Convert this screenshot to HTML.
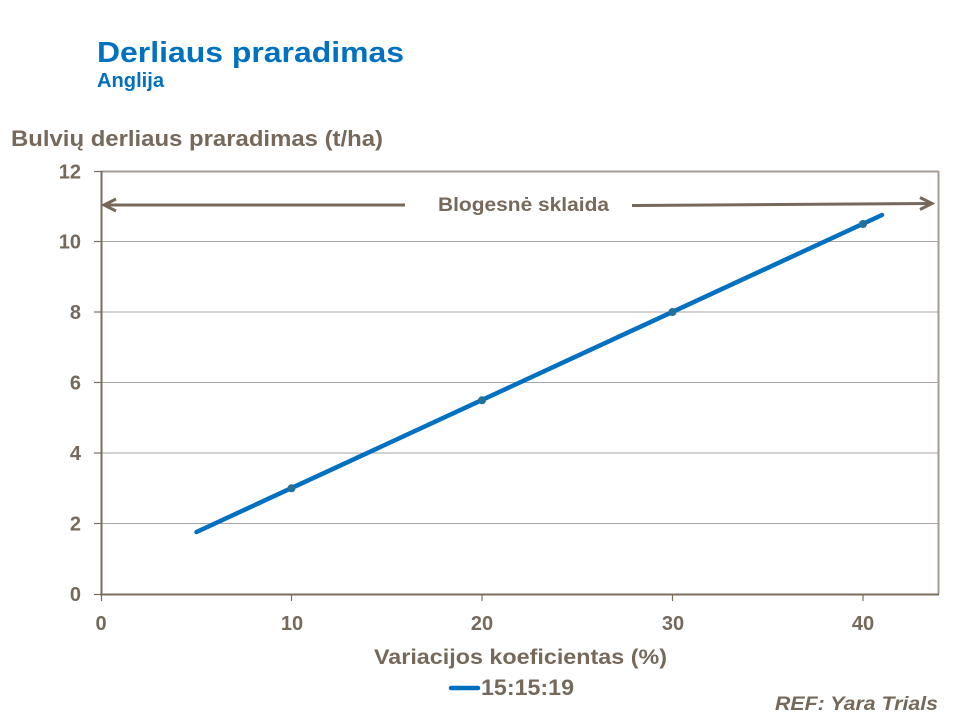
<!DOCTYPE html>
<html>
<head>
<meta charset="utf-8">
<style>
  html,body{margin:0;padding:0;background:#fff;}
  svg{display:block;}
  text{font-family:"Liberation Sans",Arial,sans-serif;font-weight:bold;}
</style>
</head>
<body>
<svg width="960" height="720" viewBox="0 0 960 720" xmlns="http://www.w3.org/2000/svg">
  <rect width="960" height="720" fill="#fff"/>
  <!-- Title -->
  <text x="97" y="62" font-size="29" fill="#0070c0" textLength="307" lengthAdjust="spacingAndGlyphs">Derliaus praradimas</text>
  <text x="97" y="87" font-size="20" fill="#0070c0" textLength="67" lengthAdjust="spacingAndGlyphs">Anglija</text>
  <!-- Y axis title -->
  <text x="11" y="146" font-size="22" fill="#76695b" textLength="372" lengthAdjust="spacingAndGlyphs">Bulvių derliaus praradimas (t/ha)</text>

  <!-- gridlines -->
  <g stroke="#a6a6a6" stroke-width="1">
    <line x1="101" y1="523.5" x2="938" y2="523.5"/>
    <line x1="101" y1="453" x2="938" y2="453"/>
    <line x1="101" y1="382.5" x2="938" y2="382.5"/>
    <line x1="101" y1="312" x2="938" y2="312"/>
    <line x1="101" y1="241.5" x2="938" y2="241.5"/>
  </g>
  <!-- top and right border -->
  <line x1="101" y1="171.5" x2="938.5" y2="171.5" stroke="#a49c93" stroke-width="2"/>
  <line x1="938.5" y1="171" x2="938.5" y2="594" stroke="#a49c93" stroke-width="2"/>
  <!-- axes -->
  <line x1="101.5" y1="171" x2="101.5" y2="595" stroke="#7a6d5e" stroke-width="2"/>
  <line x1="100" y1="594.5" x2="939" y2="594.5" stroke="#7a6d5e" stroke-width="2"/>
  <!-- y ticks -->
  <g stroke="#7a6d5e" stroke-width="1.2">
    <line x1="94" y1="594.5" x2="101" y2="594.5"/>
    <line x1="94" y1="523.5" x2="101" y2="523.5"/>
    <line x1="94" y1="453" x2="101" y2="453"/>
    <line x1="94" y1="382.5" x2="101" y2="382.5"/>
    <line x1="94" y1="312" x2="101" y2="312"/>
    <line x1="94" y1="241.5" x2="101" y2="241.5"/>
    <line x1="94" y1="171.5" x2="101" y2="171.5"/>
  </g>
  <!-- x ticks -->
  <g stroke="#7a6d5e" stroke-width="1.2">
    <line x1="101.5" y1="594" x2="101.5" y2="601"/>
    <line x1="291.5" y1="594" x2="291.5" y2="601"/>
    <line x1="482" y1="594" x2="482" y2="601"/>
    <line x1="672.5" y1="594" x2="672.5" y2="601"/>
    <line x1="863" y1="594" x2="863" y2="601"/>
  </g>
  <!-- y labels -->
  <g font-size="20" fill="#76695b" text-anchor="end">
    <text x="81" y="601">0</text>
    <text x="81" y="530.5">2</text>
    <text x="81" y="460">4</text>
    <text x="81" y="389.5">6</text>
    <text x="81" y="319">8</text>
    <text x="81" y="248.5">10</text>
    <text x="81" y="178.5">12</text>
  </g>
  <!-- x labels -->
  <g font-size="20" fill="#76695b" text-anchor="middle">
    <text x="101" y="630">0</text>
    <text x="292" y="630">10</text>
    <text x="482" y="630">20</text>
    <text x="673" y="630">30</text>
    <text x="863" y="630">40</text>
  </g>
  <!-- x axis title -->
  <text x="374" y="664" font-size="21" fill="#76695b" textLength="293" lengthAdjust="spacingAndGlyphs">Variacijos koeficientas (%)</text>

  <!-- arrows -->
  <g stroke="#76695b" stroke-width="3" fill="none" stroke-linecap="butt">
    <line x1="104" y1="205" x2="405" y2="205"/>
    <polyline points="116,199 104,205 116,211"/>
    <line x1="632" y1="205.5" x2="931" y2="203.5"/>
    <polyline points="920,197.5 932,203.5 920,209.5"/>
  </g>
  <text x="438" y="211" font-size="19" fill="#76695b" textLength="171" lengthAdjust="spacingAndGlyphs">Blogesnė sklaida</text>

  <!-- series -->
  <line x1="196.5" y1="532" x2="882" y2="215" stroke="#0070c0" stroke-width="4.5" stroke-linecap="round"/>
  <g fill="#24709a">
    <circle cx="291.5" cy="488.3" r="4"/>
    <circle cx="482" cy="400.3" r="4"/>
    <circle cx="672.5" cy="312" r="4"/>
    <circle cx="863" cy="224" r="4"/>
  </g>

  <!-- legend -->
  <line x1="451" y1="688" x2="478" y2="688" stroke="#0070c0" stroke-width="4.5" stroke-linecap="round"/>
  <text x="481" y="695" font-size="22" fill="#76695b" textLength="93" lengthAdjust="spacingAndGlyphs">15:15:19</text>

  <!-- REF -->
  <text x="775" y="710" font-size="19" font-style="italic" fill="#76695b" textLength="163" lengthAdjust="spacingAndGlyphs">REF: Yara Trials</text>
</svg>
</body>
</html>
